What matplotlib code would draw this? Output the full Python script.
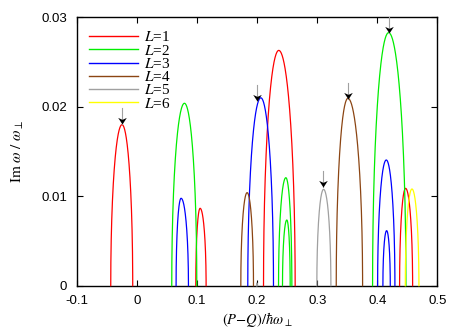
import numpy as np
import matplotlib
matplotlib.use("Agg")
import matplotlib.pyplot as plt
from matplotlib.path import Path

plt.rcParams['font.family'] = ['Liberation Sans', 'DejaVu Sans']
plt.rcParams['mathtext.fontset'] = 'stix'
plt.rcParams['axes.unicode_minus'] = False

# each arc: (left foot, x of peak, right foot, peak height)
arcs_L1 = [(-0.0438, -0.0250, -0.0072, 0.0180), (0.0978, 0.1050, 0.1150, 0.00865),
           (0.2106, 0.2360, 0.2633, 0.0263), (0.4372, 0.4472, 0.4589, 0.01088)]
arcs_L2 = [(0.0578, 0.0789, 0.0995, 0.02039), (0.2356, 0.2478, 0.2578, 0.01207),
           (0.2422, 0.2494, 0.2550, 0.00734), (0.3922, 0.4189, 0.4478, 0.02828)]
arcs_L3 = [(0.0650, 0.0733, 0.0856, 0.00977), (0.1844, 0.2061, 0.2272, 0.0210),
           (0.4006, 0.4150, 0.4294, 0.01405), (0.4094, 0.4156, 0.4217, 0.00615)]
arcs_L4 = [(0.1728, 0.1833, 0.1939, 0.0104), (0.3317, 0.3511, 0.3756, 0.02094)]
arcs_L5 = [(0.1990, 0.1995, 0.2000, 0.0003), (0.2994, 0.3106, 0.3228, 0.01077)]
arcs_L6 = [(0.4467, 0.4578, 0.4694, 0.01081)]

series_labels = ['1', '2', '3', '4', '5', '6']
series_colors = ['#ff0000', '#00ee00', '#0000ff', '#8b4513', '#a0a0a0', '#ffff00']

# marked points (arrow tips)
arrow_x = [-0.0245, 0.1995, 0.3094, 0.3506, 0.4189]
arrow_y = [0.0181, 0.0206, 0.0110, 0.0209, 0.0283]

xticks = [-0.1, 0, 0.1, 0.2, 0.3, 0.4, 0.5]
xtick_labels = ['-0.1', '0', '0.1', '0.2', '0.3', '0.4', '0.5']
yticks = [0, 0.01, 0.02, 0.03]
ytick_labels = ['0', '0.01', '0.02', '0.03']


def arc_points(lo, xp, hi, h, n=120):
    # two quarter ellipses meeting at the peak
    t = np.linspace(0, np.pi / 2, n)
    xl = xp - (xp - lo) * np.cos(t)
    yl = h * np.sin(t)
    xr = xp + (hi - xp) * np.sin(t)
    yr = h * np.cos(t)
    return np.concatenate([xl, xr]), np.concatenate([yl, yr])


fig = plt.figure(figsize=(4.63, 3.32), dpi=100)
ax = fig.add_axes([0.1663, 0.1395, 0.7782, 0.8084])

all_arcs = [arcs_L1, arcs_L2, arcs_L3, arcs_L4, arcs_L5, arcs_L6]
for arcs, lab, col in zip(all_arcs, series_labels, series_colors):
    for k, (lo, xp, hi, h) in enumerate(arcs):
        xs, ys = arc_points(lo, xp, hi, h)
        ax.plot(xs, ys, color=col, lw=0.9, label=f'$L$={lab}' if k == 0 else None,
                clip_on=False, zorder=3)

# arrows: grey shaft, black notched head
head = Path([(0, 0), (-0.65, 1), (0, 0.7), (0.65, 1), (0, 0)],
            [Path.MOVETO, Path.LINETO, Path.LINETO, Path.LINETO, Path.CLOSEPOLY])
for xa, ya in zip(arrow_x, arrow_y):
    ax.plot([xa, xa], [ya, ya + 0.00178], color='#a0a0a0', lw=0.8, zorder=4)
    ax.plot([xa], [ya], marker=head, markersize=9.5, color='black', lw=0,
            markeredgewidth=0, zorder=5)

ax.set_xlim(-0.1, 0.5)
ax.set_ylim(0, 0.03)
ax.set_xticks(xticks)
ax.set_xticklabels(xtick_labels)
ax.set_yticks(yticks)
ax.set_yticklabels(ytick_labels)
ax.tick_params(direction='in', length=4, width=0.8, top=True, right=True,
               labelsize=9.5, pad=7, colors='black')
for s in ax.spines.values():
    s.set_linewidth(1.0)

ax.set_xlabel(r'$(P{-}Q)/\hbar\omega_\perp$', fontsize=10.5, labelpad=2)
ax.set_ylabel(r'$\mathrm{Im}\ \omega\ /\ \omega_\perp$', fontsize=11, labelpad=11)

leg = ax.legend(loc='upper left', bbox_to_anchor=(0.008, 0.985), frameon=False,
                prop={'family': 'Liberation Serif', 'size': 11},
                handlelength=3.2, handletextpad=0.4, labelspacing=-0.05,
                borderaxespad=0.2)
for line in leg.get_lines():
    line.set_linewidth(1.0)

fig.savefig('out.png', dpi=100)
